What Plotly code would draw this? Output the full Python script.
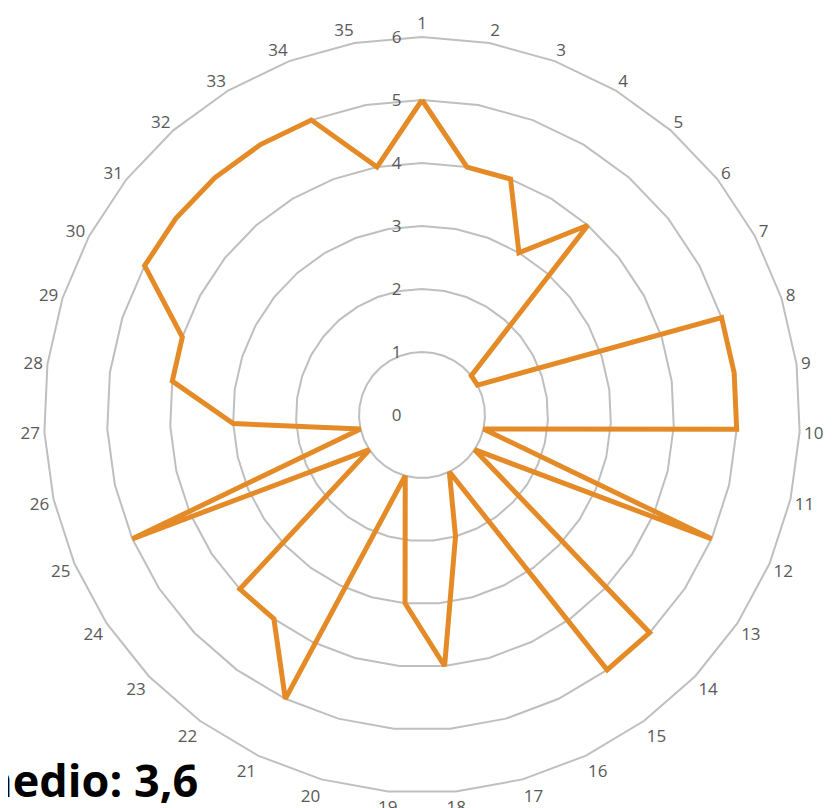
import plotly.graph_objects as go

categories = [str(i) for i in range(1, 36)]
values = [5, 4, 4, 3, 4, 1, 1, 5, 5, 5,
          1, 5, 1, 5, 5, 1, 2, 4, 3, 1,
          5, 4, 4, 1, 5, 1, 3, 4, 4, 5,
          5, 5, 5, 5, 4]
radial_ticks = [0, 1, 2, 3, 4, 5, 6]
avg_text = "Promedio: 3,6"

L, R, T, B = 36, 46, 29, 23
W, H = 838, 808
pw, ph = W - L - R, H - T - B

fig = go.Figure()
fig.add_trace(go.Scatterpolar(
    r=values + [values[0]],
    theta=categories + [categories[0]],
    mode="lines",
    line=dict(color="#E48A26", width=5),
    showlegend=False,
    hoverinfo="skip",
))

fig.update_layout(
    width=W, height=H,
    paper_bgcolor="white",
    margin=dict(l=L, r=R, t=T, b=B),
    polar=dict(
        bgcolor="white",
        gridshape="linear",
        domain=dict(x=[0, 1], y=[0, 1]),
        radialaxis=dict(
            range=[0, 6],
            tickvals=radial_ticks,
            angle=90,
            tickangle=90,
            side="counterclockwise",
            showline=False,
            ticks="outside",
            ticklen=14,
            tickcolor="rgba(0,0,0,0)",
            showgrid=True,
            gridcolor="#BFBFBF",
            gridwidth=2,
            tickfont=dict(family="Open Sans", size=17, color="#595959"),
        ),
        angularaxis=dict(
            type="category",
            categoryarray=categories,
            rotation=90,
            direction="clockwise",
            showgrid=False,
            showline=True,
            linecolor="#BFBFBF",
            linewidth=2,
            ticks="",
            tickfont=dict(family="Open Sans", size=17, color="#595959"),
        ),
    ),
    annotations=[dict(
        text="<b>" + avg_text + "</b>",
        xref="paper", yref="paper",
        x=(192 - L) / pw, y=(H - B - 771) / ph,
        xanchor="right", yanchor="middle",
        showarrow=False,
        font=dict(family="Open Sans", size=45, color="black"),
    )],
)

fig.write_html("out.html")
